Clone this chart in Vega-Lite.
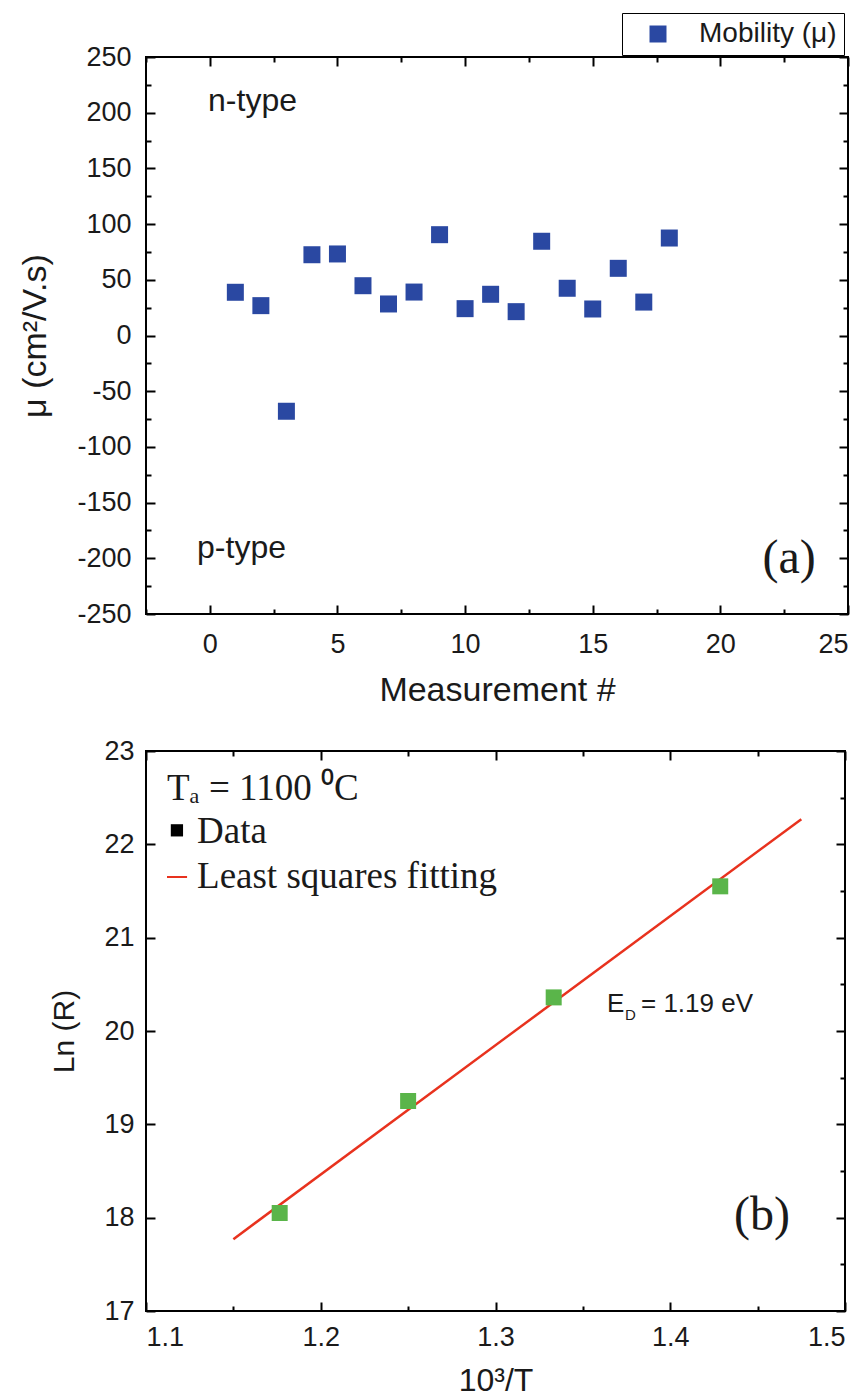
{
  "$schema": "https://vega.github.io/schema/vega-lite/v6.json",
  "background": "white",
  "padding": {"left": 17, "top": 12, "right": 5, "bottom": 0},
  "spacing": 28,
  "config": {
    "view": {"stroke": "black", "strokeWidth": 2},
    "axis": {
      "labelFont": "Liberation Sans", "labelFontSize": 27, "labelColor": "#1a1a1a",
      "titleFont": "Liberation Sans", "titleFontSize": 34, "titleFontWeight": "normal", "titleColor": "#1a1a1a",
      "domain": false, "grid": false, "tickColor": "black", "tickWidth": 2
    }
  },
  "vconcat": [
    {
      "width": 702,
      "height": 557,
      "layer": [
        {
          "data": {"values": [
            {"m": 1, "mu": 38.8, "series": "Mobility (μ)"},
            {"m": 2, "mu": 26.8, "series": "Mobility (μ)"},
            {"m": 3, "mu": -68, "series": "Mobility (μ)"},
            {"m": 4, "mu": 72.5, "series": "Mobility (μ)"},
            {"m": 5, "mu": 73.2, "series": "Mobility (μ)"},
            {"m": 6, "mu": 44.7, "series": "Mobility (μ)"},
            {"m": 7, "mu": 28.3, "series": "Mobility (μ)"},
            {"m": 8, "mu": 39, "series": "Mobility (μ)"},
            {"m": 9, "mu": 90.5, "series": "Mobility (μ)"},
            {"m": 10, "mu": 24.1, "series": "Mobility (μ)"},
            {"m": 11, "mu": 37, "series": "Mobility (μ)"},
            {"m": 12, "mu": 21.4, "series": "Mobility (μ)"},
            {"m": 13, "mu": 84.6, "series": "Mobility (μ)"},
            {"m": 14, "mu": 42.4, "series": "Mobility (μ)"},
            {"m": 15, "mu": 23.8, "series": "Mobility (μ)"},
            {"m": 16, "mu": 60.3, "series": "Mobility (μ)"},
            {"m": 17, "mu": 30, "series": "Mobility (μ)"},
            {"m": 18, "mu": 87.5, "series": "Mobility (μ)"}
          ]},
          "mark": {"type": "point", "shape": "square", "filled": true, "size": 289, "opacity": 1},
          "encoding": {
            "x": {"field": "m", "type": "quantitative",
              "scale": {"domain": [-2.5, 25], "nice": false, "zero": false},
              "axis": {"orient": "bottom", "title": "Measurement #", "titlePadding": 16,
                "values": [-2.5, 0, 2.5, 5, 7.5, 10, 12.5, 15, 17.5, 20, 22.5, 25],
                "labelExpr": "datum.value % 5 === 0 ? datum.label : ''",
                "tickSize": {"condition": {"test": "datum.value % 5 === 0", "value": -9}, "value": -5},
                "labelPadding": 26}},
            "y": {"field": "mu", "type": "quantitative",
              "scale": {"domain": [-250, 250], "nice": false, "zero": false},
              "axis": {"orient": "left", "title": "μ (cm²/V.s)", "titlePadding": 24,
                "values": [-250, -225, -200, -175, -150, -125, -100, -75, -50, -25, 0, 25, 50, 75, 100, 125, 150, 175, 200, 225, 250],
                "labelExpr": "datum.value % 50 === 0 ? replace(datum.label, '−', '-') : ''",
                "tickSize": {"condition": {"test": "datum.value % 50 === 0", "value": -9}, "value": -5},
                "labelPadding": 24}},
            "color": {"field": "series", "type": "nominal",
              "scale": {"range": ["#2a48a2"]},
              "legend": {"orient": "none", "legendX": 476, "legendY": -44, "title": null,
                "strokeColor": "black", "padding": 7, "symbolType": "square", "symbolSize": 289,
                "symbolOpacity": 1, "symbolStrokeWidth": 0, "symbolOffset": 15,
                "labelFont": "Liberation Sans", "labelFontSize": 28, "labelColor": "#1a1a1a", "labelOffset": 27}}
          }
        },
        {
          "mark": {"type": "rule", "color": "black", "strokeWidth": 1.5},
          "encoding": {"y": {"datum": 0, "type": "quantitative", "axis": null}}
        },
        {
          "data": {"values": [
            {"x": -0.07, "y": 210.5, "t": "n-type"},
            {"x": -0.5, "y": -190.7, "t": "p-type"}
          ]},
          "mark": {"type": "text", "align": "left", "baseline": "middle", "font": "Liberation Sans", "fontSize": 32, "color": "#1a1a1a"},
          "encoding": {
            "x": {"field": "x", "type": "quantitative",
              "axis": {"orient": "top", "title": null, "labels": false,
                "values": [-2.5, 0, 2.5, 5, 7.5, 10, 12.5, 15, 17.5, 20, 22.5, 25],
                "tickSize": {"condition": {"test": "datum.value % 5 === 0", "value": -9}, "value": -5}}},
            "y": {"field": "y", "type": "quantitative",
              "axis": {"orient": "right", "title": null, "labels": false,
                "values": [-250, -225, -200, -175, -150, -125, -100, -75, -50, -25, 0, 25, 50, 75, 100, 125, 150, 175, 200, 225, 250],
                "tickSize": {"condition": {"test": "datum.value % 50 === 0", "value": -9}, "value": -5}}},
            "text": {"field": "t"}
          }
        },
        {
          "data": {"values": [{"x": 23.74, "y": -200.6, "t": "(a)"}]},
          "mark": {"type": "text", "align": "right", "baseline": "middle", "font": "Liberation Serif", "fontSize": 48, "color": "#1a1a1a"},
          "encoding": {
            "x": {"field": "x", "type": "quantitative", "axis": null},
            "y": {"field": "y", "type": "quantitative", "axis": null},
            "text": {"field": "t"}
          }
        }
      ],
      "resolve": {"axis": {"x": "independent", "y": "independent"}}
    },
    {
      "width": 699,
      "height": 560,
      "layer": [
        {
          "data": {"values": [{"x": 1.15, "y": 17.77}, {"x": 1.475, "y": 22.27}]},
          "mark": {"type": "line", "color": "#e8321e", "strokeWidth": 2.5},
          "encoding": {
            "x": {"field": "x", "type": "quantitative",
              "scale": {"domain": [1.1, 1.5], "nice": false, "zero": false},
              "axis": {"orient": "bottom", "title": "10³/T", "titlePadding": 15, "titleFontSize": 32,
                "values": [1.1, 1.15, 1.2, 1.25, 1.3, 1.35, 1.4, 1.45, 1.5], "format": ".1f",
                "labelExpr": "abs(datum.value*10 - round(datum.value*10)) < 0.01 ? datum.label : ''",
                "tickSize": {"condition": {"test": "abs(datum.value*10 - round(datum.value*10)) < 0.01", "value": -9}, "value": -5},
                "labelPadding": 22}},
            "y": {"field": "y", "type": "quantitative",
              "scale": {"domain": [17, 23], "nice": false, "zero": false},
              "axis": {"orient": "left", "title": "Ln (R)", "titlePadding": 24, "titleFontSize": 30,
                "values": [17, 17.5, 18, 18.5, 19, 19.5, 20, 20.5, 21, 21.5, 22, 22.5, 23], "format": "d",
                "labelExpr": "datum.value % 1 === 0 ? datum.label : ''",
                "tickSize": {"condition": {"test": "datum.value % 1 === 0", "value": -9}, "value": -5},
                "labelPadding": 21}}
          }
        },
        {
          "data": {"values": [
            {"x": 1.1765, "y": 18.05},
            {"x": 1.25, "y": 19.25},
            {"x": 1.3333, "y": 20.36},
            {"x": 1.4286, "y": 21.55}
          ]},
          "mark": {"type": "point", "shape": "square", "filled": true, "size": 256, "color": "#5ab54a", "opacity": 1},
          "encoding": {
            "x": {"field": "x", "type": "quantitative", "axis": null},
            "y": {"field": "y", "type": "quantitative", "axis": null}
          }
        },
        {
          "data": {"values": [
            {"x": 1.112, "y": 22.59, "t": "Tₐ = 1100 ⁰C"},
            {"x": 1.1292, "y": 22.13, "t": "Data"},
            {"x": 1.1292, "y": 21.65, "t": "Least squares fitting"}
          ]},
          "mark": {"type": "text", "align": "left", "baseline": "middle", "font": "Liberation Serif", "fontSize": 37, "color": "#1a1a1a"},
          "encoding": {
            "x": {"field": "x", "type": "quantitative",
              "axis": {"orient": "top", "title": null, "labels": false,
                "values": [1.1, 1.15, 1.2, 1.25, 1.3, 1.35, 1.4, 1.45, 1.5],
                "tickSize": {"condition": {"test": "abs(datum.value*10 - round(datum.value*10)) < 0.01", "value": -9}, "value": -5}}},
            "y": {"field": "y", "type": "quantitative",
              "axis": {"orient": "right", "title": null, "labels": false,
                "values": [17, 17.5, 18, 18.5, 19, 19.5, 20, 20.5, 21, 21.5, 22, 22.5, 23],
                "tickSize": {"condition": {"test": "datum.value % 1 === 0", "value": -9}, "value": -5}}},
            "text": {"field": "t"}
          }
        },
        {
          "data": {"values": [{"x": 1.1177, "y": 22.15}]},
          "mark": {"type": "point", "shape": "square", "filled": true, "size": 150, "color": "black", "opacity": 1},
          "encoding": {
            "x": {"field": "x", "type": "quantitative", "axis": null},
            "y": {"field": "y", "type": "quantitative", "axis": null}
          }
        },
        {
          "data": {"values": [{"x": 1.112, "y": 21.65}, {"x": 1.1235, "y": 21.65}]},
          "mark": {"type": "line", "color": "#e8321e", "strokeWidth": 2},
          "encoding": {
            "x": {"field": "x", "type": "quantitative", "axis": null},
            "y": {"field": "y", "type": "quantitative", "axis": null}
          }
        },
        {
          "data": {"values": [{"x": 1.3638, "y": 20.29, "t": "E"}]},
          "mark": {"type": "text", "align": "left", "baseline": "middle", "font": "Liberation Sans", "fontSize": 26, "color": "#1a1a1a"},
          "encoding": {
            "x": {"field": "x", "type": "quantitative", "axis": null},
            "y": {"field": "y", "type": "quantitative", "axis": null},
            "text": {"field": "t"}
          }
        },
        {
          "data": {"values": [{"x": 1.3638, "y": 20.29, "t": "D"}]},
          "mark": {"type": "text", "align": "left", "baseline": "middle", "font": "Liberation Sans", "fontSize": 15, "color": "#1a1a1a", "dx": 18, "dy": 11},
          "encoding": {
            "x": {"field": "x", "type": "quantitative", "axis": null},
            "y": {"field": "y", "type": "quantitative", "axis": null},
            "text": {"field": "t"}
          }
        },
        {
          "data": {"values": [{"x": 1.3638, "y": 20.29, "t": "= 1.19 eV"}]},
          "mark": {"type": "text", "align": "left", "baseline": "middle", "font": "Liberation Sans", "fontSize": 26, "color": "#1a1a1a", "dx": 34},
          "encoding": {
            "x": {"field": "x", "type": "quantitative", "axis": null},
            "y": {"field": "y", "type": "quantitative", "axis": null},
            "text": {"field": "t"}
          }
        },
        {
          "data": {"values": [{"x": 1.4685, "y": 18.02, "t": "(b)"}]},
          "mark": {"type": "text", "align": "right", "baseline": "middle", "font": "Liberation Serif", "fontSize": 48, "color": "#1a1a1a"},
          "encoding": {
            "x": {"field": "x", "type": "quantitative", "axis": null},
            "y": {"field": "y", "type": "quantitative", "axis": null},
            "text": {"field": "t"}
          }
        }
      ],
      "resolve": {"axis": {"x": "independent", "y": "independent"}}
    }
  ]
}
